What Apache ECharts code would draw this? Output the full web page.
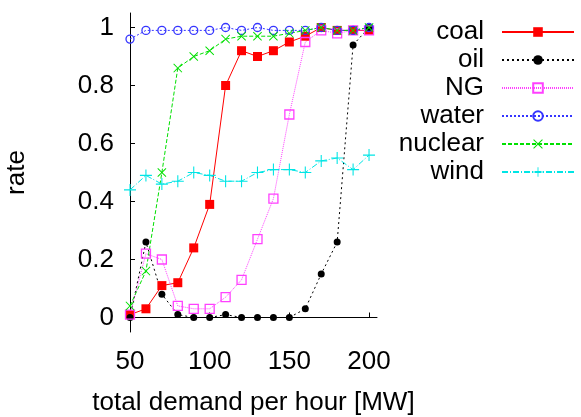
<!DOCTYPE html>
<html><head><meta charset="utf-8">
<script src="https://cdn.jsdelivr.net/npm/echarts@6/dist/echarts.min.js"></script>
<style>html,body{margin:0;padding:0;background:#fff}#c{width:581px;height:417px}</style>
</head><body><div id="c"></div>
<script>
const demand = [50,60,70,80,90,100,110,120,130,140,150,160,170,180,190,200];
const coal    = [0.01,0.03,0.11,0.12,0.24,0.39,0.80,0.92,0.90,0.92,0.95,0.97,1.00,0.99,0.99,0.99];
const oil     = [0.00,0.26,0.08,0.01,0.00,0.00,0.01,0.00,0.00,0.00,0.00,0.03,0.15,0.26,0.94,1.00];
const ng      = [0.01,0.22,0.20,0.04,0.03,0.03,0.07,0.13,0.27,0.41,0.70,0.95,0.99,0.98,0.99,0.99];
const water   = [0.96,0.99,0.99,0.99,0.99,0.99,1.00,0.99,1.00,0.99,0.99,0.99,1.00,0.99,0.99,1.00];
const nuclear = [0.04,0.16,0.50,0.86,0.90,0.92,0.96,0.97,0.97,0.97,0.98,0.99,1.00,0.99,0.99,1.00];
const wind    = [0.44,0.49,0.46,0.47,0.50,0.49,0.47,0.47,0.50,0.51,0.51,0.50,0.54,0.55,0.51,0.56];
const xTicks = [50,100,150,200];
const yTicks = [0,0.2,0.4,0.6,0.8,1];

const FONT = "'Liberation Sans', Arial, Helvetica, sans-serif";
const FS = 26;
const pairs = ys => demand.map((d,i)=>[d, ys[i]]);
const PLUS = 'path://M-0.9,-10 L0.9,-10 L0.9,-0.9 L10,-0.9 L10,0.9 L0.9,0.9 L0.9,10 L-0.9,10 L-0.9,0.9 L-10,0.9 L-10,-0.9 L-0.9,-0.9 Z';
const CROSS = 'path://M-10,-8.5 L-8.5,-10 L0,-1.5 L8.5,-10 L10,-8.5 L1.5,0 L10,8.5 L8.5,10 L0,1.5 L-8.5,10 L-10,8.5 L-1.5,0 Z';

function mk(name, data, color, type, symbol, size, filled, width){
  return {
    name, type:'line', data: pairs(data), symbol, symbolSize: size,
    lineStyle:{color, type, width: width||1},
    itemStyle: filled ? {color, borderWidth:0} : {color:'rgba(0,0,0,0)', borderColor:color, borderWidth:1.3},
    emphasis:{disabled:true}, animation:false
  };
}

const chart = echarts.init(document.getElementById('c'), null, {renderer:'canvas'});
chart.setOption({
  animation:false,
  backgroundColor:'#fff',
  grid:{left:130, right:204, top:13, bottom:85, containLabel:false, outerBoundsMode:'none'},
  xAxis:{type:'value', min:50, max:205,
    name:'total demand per hour [MW]', nameLocation:'middle', nameGap:58,
    nameTextStyle:{fontFamily:FONT, fontSize:FS, color:'#000'},
    axisLine:{lineStyle:{color:'#000', width:1}},
    axisTick:{inside:true, length:5, lineStyle:{color:'#000'}, customValues:xTicks},
    axisLabel:{fontFamily:FONT, fontSize:FS, color:'#000', margin:17, customValues:xTicks},
    splitLine:{show:false}},
  yAxis:{type:'value', min:-0.05, max:1.05,
    name:'rate', nameLocation:'middle', nameGap:100,
    nameTextStyle:{fontFamily:FONT, fontSize:FS, color:'#000'},
    axisLine:{show:true, lineStyle:{color:'#000', width:1}},
    axisTick:{show:true, inside:true, length:5, lineStyle:{color:'#000'}, customValues:yTicks},
    axisLabel:{fontFamily:FONT, fontSize:FS, color:'#000', margin:16, customValues:yTicks},
    splitLine:{show:false}},
  legend:{orient:'vertical', right:1, top:14, align:'right', itemWidth:72, itemHeight:12, itemGap:2,
    textStyle:{fontFamily:FONT, fontSize:FS, color:'#000', padding:[0,13,0,0]},
    selectedMode:false},
  series:[
    mk('coal', coal, '#ff0000', 'solid', 'rect', 9, true),
    mk('oil', oil, '#000000', [2,3], 'circle', 7, true),
    mk('NG', ng, '#ff40ff', [1,1], 'rect', 9, false),
    mk('water', water, '#3535ff', [2,2], 'circle', 8, false),
    mk('nuclear', nuclear, '#00e000', [4,2], CROSS, 9, true),
    mk('wind', wind, '#00e5e5', [6,2,1,2], PLUS, 12, true)
  ]
});
</script></body></html>
